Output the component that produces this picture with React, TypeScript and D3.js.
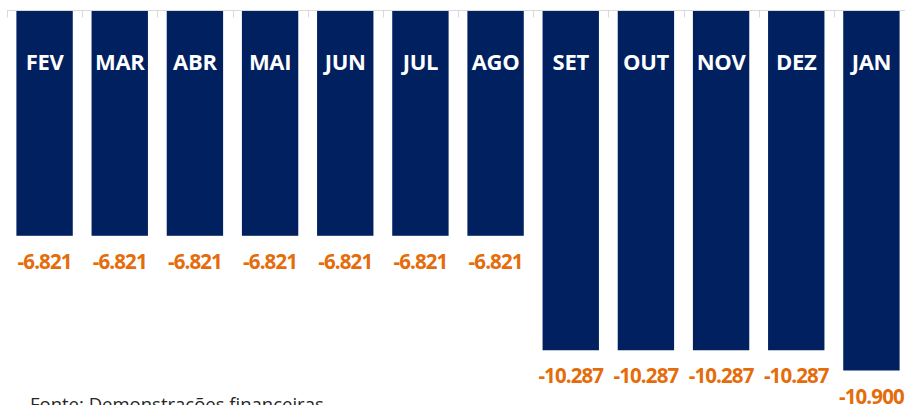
import React, { useEffect, useRef } from 'react';
import * as d3 from 'd3';

const months = ['FEV', 'MAR', 'ABR', 'MAI', 'JUN', 'JUL', 'AGO', 'SET', 'OUT', 'NOV', 'DEZ', 'JAN'];
const values = [-6821, -6821, -6821, -6821, -6821, -6821, -6821, -10287, -10287, -10287, -10287, -10900];
const sourceNote = 'Fonte: Demonstrações financeiras';

// pt-BR style thousands separator, plain hyphen for the sign
const fmt = (v: number) => d3.format(',')(v).replace(/,/g, '.').replace('\u2212', '-');

const App = () => {
  const ref = useRef<SVGSVGElement>(null);

  useEffect(() => {
    const width = 905;
    const margin = { top: 10.5, left: 7, right: -4 };

    const svg = d3.select(ref.current);
    svg.selectAll('*').remove();

    const x = d3.scaleBand<string>()
      .domain(months)
      .range([margin.left, width - margin.right])
      .paddingInner(0.25)
      .paddingOuter(0.125);

    const y = d3.scaleLinear()
      .domain([0, -10900])
      .range([margin.top, margin.top + 360]);

    const font = '"Open Sans", "Liberation Sans", Arial, sans-serif';

    // axis line and tick marks between categories
    const step = x.step();
    const g = svg.append('g');
    g.append('line')
      .attr('x1', margin.left).attr('x2', width)
      .attr('y1', margin.top).attr('y2', margin.top)
      .attr('stroke', '#d9d9d9').attr('stroke-width', 1);
    g.selectAll('line.tick')
      .data(d3.range(months.length + 1))
      .join('line')
      .attr('class', 'tick')
      .attr('x1', i => Math.round(margin.left + i * step) + 0.5)
      .attr('x2', i => Math.round(margin.left + i * step) + 0.5)
      .attr('y1', margin.top)
      .attr('y2', margin.top + 7)
      .attr('stroke', '#d9d9d9');

    // bars
    svg.append('g')
      .selectAll('rect')
      .data(values)
      .join('rect')
      .attr('x', (d, i) => x(months[i])!)
      .attr('y', y(0) + 0.5)
      .attr('width', x.bandwidth())
      .attr('height', d => y(d) - y(0) - 0.5)
      .attr('fill', '#002060');

    // month labels inside bars
    svg.append('g')
      .selectAll('text')
      .data(months)
      .join('text')
      .attr('x', d => x(d)! + x.bandwidth() / 2)
      .attr('y', 70)
      .attr('text-anchor', 'middle')
      .attr('fill', '#ffffff')
      .style('font-family', font)
      .style('font-weight', 'bold')
      .style('font-size', '22px')
      .style('letter-spacing', '-0.3px')
      .text(d => d);

    // value labels
    svg.append('g')
      .selectAll('text')
      .data(values)
      .join('text')
      .attr('x', (d, i) => x(months[i])! + x.bandwidth() / 2)
      .attr('y', d => y(d) + 33)
      .attr('text-anchor', 'middle')
      .attr('fill', '#e46c0a')
      .style('font-family', font)
      .style('font-weight', 'bold')
      .style('font-size', '20.5px')
      .style('letter-spacing', '-0.9px')
      .text(d => fmt(d));

    // source note (cut off at the bottom, as in the original)
    svg.append('text')
      .attr('x', 30)
      .attr('y', 411)
      .attr('fill', '#262626')
      .style('font-family', font)
      .style('font-size', '18.5px')
      .text(sourceNote);
  }, []);

  return (
    <svg
      ref={ref}
      width={905}
      height={405}
      style={{ position: 'fixed', left: 0, top: 0, background: '#ffffff' }}
    />
  );
};

export default App;
